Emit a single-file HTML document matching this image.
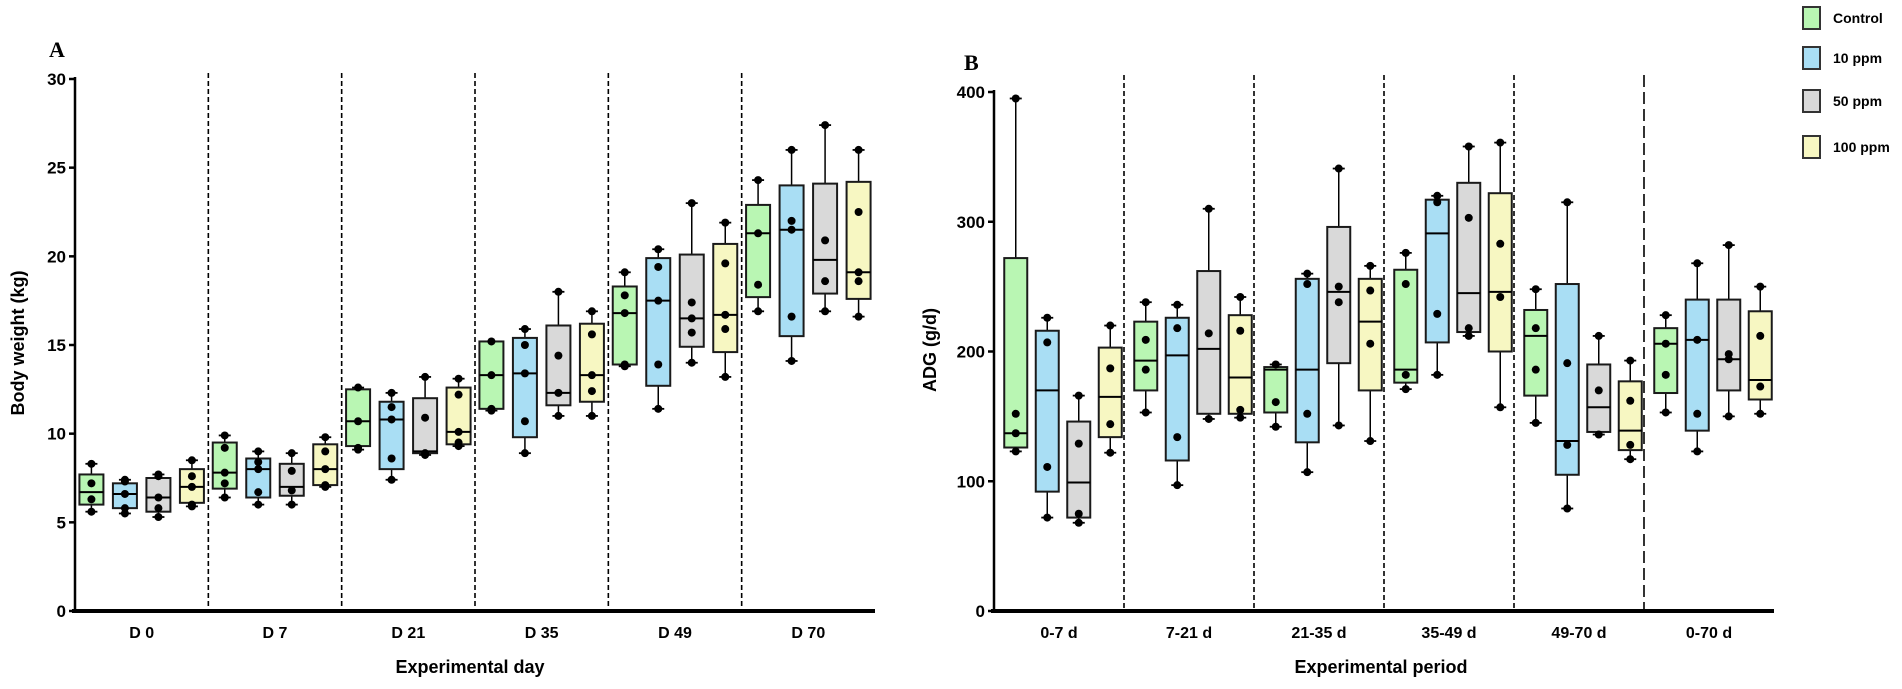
<!DOCTYPE html>
<html><head><meta charset="utf-8"><style>
html,body{margin:0;padding:0;background:#fff;}
svg{display:block;font-family:"Liberation Sans",Arial,sans-serif;}
</style></head><body>
<svg id="chart" width="1902" height="689" viewBox="0 0 1902 689"></svg>
<script>
// ---------- Panel A data (kg) ----------
const catsA = ["D 0","D 7","D 21","D 35","D 49","D 70"];
const ticksA = [0,5,10,15,20,25,30];
const minA = [[5.6,5.5,5.3,5.9],[6.4,6.0,6.0,7.0],[9.1,7.4,8.8,9.3],[11.3,8.9,11.0,11.0],[13.8,11.4,14.0,13.2],[16.9,14.1,16.9,16.6]];
const q1A  = [[6.0,5.8,5.6,6.1],[6.9,6.4,6.5,7.1],[9.3,8.0,8.9,9.4],[11.4,9.8,11.6,11.8],[13.9,12.7,14.9,14.6],[17.7,15.5,17.9,17.6]];
const medA = [[6.7,6.6,6.4,7.0],[7.8,8.0,7.0,8.0],[10.7,10.8,9.0,10.1],[13.3,13.4,12.3,13.3],[16.8,17.5,16.5,16.7],[21.3,21.5,19.8,19.1]];
const q3A  = [[7.7,7.2,7.5,8.0],[9.5,8.6,8.3,9.4],[12.5,11.8,12.0,12.6],[15.2,15.4,16.1,16.2],[18.3,19.9,20.1,20.7],[22.9,24.0,24.1,24.2]];
const maxA = [[8.3,7.4,7.7,8.5],[9.9,9.0,8.9,9.8],[12.6,12.3,13.2,13.1],[15.2,15.9,18.0,16.9],[19.1,20.4,23.0,21.9],[24.3,26.0,27.4,26.0]];
const ptsA = [[[7.2,6.3],[7.3,6.6,5.8],[7.6,6.4,5.8],[7.6,7.0,6.0]],
              [[9.2,7.8,7.2],[8.4,8.0,6.7],[7.9,6.8],[9.0,8.0,7.1]],
              [[10.7,9.2],[11.5,10.8,8.6],[10.9,8.9],[12.2,10.1,9.5]],
              [[13.3,11.4],[15.0,13.4,10.7],[14.4,12.3],[15.6,13.3,12.4]],
              [[17.8,16.8,13.9],[19.4,17.5,13.9],[17.4,16.5,15.7],[19.6,16.7,15.9]],
              [[21.3,18.4],[22.0,21.5,16.6],[20.9,18.6],[22.5,19.1,18.6]]];
// ---------- Panel B data (g/d) ----------
const catsB = ["0-7 d","7-21 d","21-35 d","35-49 d","49-70 d","0-70 d"];
const ticksB = [0,100,200,300,400];
const minB = [[123,72,68,122],[153,97,148,149],[142,107,143,131],[171,182,212,157],[145,79,136,117],[153,123,150,152]];
const q1B  = [[126,92,72,134],[170,116,152,152],[153,130,191,170],[176,207,215,200],[166,105,138,124],[168,139,170,163]];
const medB = [[137,170,99,165],[193,197,202,180],[186,186,246,223],[186,291,245,246],[212,131,157,139],[206,209,194,178]];
const q3B  = [[272,216,146,203],[223,226,262,228],[188,256,296,256],[263,317,330,322],[232,252,190,177],[218,240,240,231]];
const maxB = [[395,226,166,220],[238,236,310,242],[190,260,341,266],[276,320,358,361],[248,315,212,193],[228,268,282,250]];
const ptsB = [[[152,137],[207,111],[129,75],[187,144]],
              [[209,186],[218,134],[214],[216,155]],
              [[161],[252,152],[250,238],[247,206]],
              [[252,182],[315,229],[303,218],[283,242]],
              [[218,186],[191,128],[170],[162,128]],
              [[206,182],[209,152],[198,194],[212,173]]];
const treatments = ["Control","10 ppm","50 ppm","100 ppm"];
const fills = ["#b9f6b3","#a9def4","#d9d9d9","#f7f7c2"];

const NS="http://www.w3.org/2000/svg";
const svg=document.getElementById('chart');
function mk(tag,attrs,parent){const e=document.createElementNS(NS,tag);for(const k in attrs)e.setAttribute(k,attrs[k]);(parent||svg).appendChild(e);return e;}

function panel(cfg){
  const g=mk('g',{});
  
  
  const y=v=>cfg.y0-(v-cfg.vmin)/(cfg.vmax-cfg.vmin)*(cfg.y0-cfg.y1);
  const n=cfg.cats.length, gw=(cfg.x1-cfg.x0)/n;
  const cx=(i)=>cfg.x0+gw*(i+0.5)+cfg.shift;
  for(let i=1;i<n;i++){
    const x=cfg.x0+gw*i;
    const l=mk('line',{x1:x,x2:x,y1:cfg.divTop,y2:cfg.y0,stroke:'#000','stroke-width':1.6,'stroke-dasharray':(cfg.longLast&&i===n-1)?'12,5':'5,3'},g);
    
    
  }
  for(let i=0;i<n;i++){
    for(let t=0;t<4;t++){
      const bx=cx(i)+(t-1.5)*cfg.sp, hw=cfg.bw/2;
      const bg=mk('g',{},g);
      
      
      const mn=cfg.mins[i][t],q1=cfg.q1s[i][t],md=cfg.meds[i][t],q3=cfg.q3s[i][t],mx=cfg.maxs[i][t];
      mk('line',{x1:bx,x2:bx,y1:y(mx),y2:y(q3),stroke:'#000','stroke-width':1.5},bg);
      mk('line',{x1:bx,x2:bx,y1:y(q1),y2:y(mn),stroke:'#000','stroke-width':1.5},bg);
      mk('line',{x1:bx-6,x2:bx+6,y1:y(mx),y2:y(mx),stroke:'#000','stroke-width':1.8},bg);
      mk('line',{x1:bx-6,x2:bx+6,y1:y(mn),y2:y(mn),stroke:'#000','stroke-width':1.8},bg);
      mk('rect',{x:bx-hw,y:y(q3),width:cfg.bw,height:Math.max(0.5,y(q1)-y(q3)),fill:fills[t],stroke:'#1a1a1a','stroke-width':2},bg);
      mk('line',{x1:bx-hw,x2:bx+hw,y1:y(md),y2:y(md),stroke:'#000','stroke-width':2},bg);
      const pv=[mx,mn].concat(cfg.pts[i][t]);
      pv.forEach(v=>mk('circle',{cx:bx,cy:y(v),r:4,fill:'#000'},bg));
    }
  }
  const ya=mk('line',{x1:cfg.x0,x2:cfg.x0,y1:cfg.y1-2,y2:cfg.y0+1,stroke:'#000','stroke-width':2.5},g);
  
  const xa=mk('line',{x1:cfg.x0-3,x2:cfg.x1,y1:cfg.y0,y2:cfg.y0,stroke:'#000','stroke-width':4},g);
  
  cfg.ticks.forEach(v=>{
    mk('line',{x1:cfg.x0-6,x2:cfg.x0,y1:y(v),y2:y(v),stroke:'#000','stroke-width':2.5},g);
    const tx=mk('text',{x:cfg.x0-9,y:y(v)+6,'text-anchor':'end','font-size':17,'font-weight':'bold'},g);
    tx.textContent=v;
    
  });
  cfg.cats.forEach((c,i)=>{
    const tx=mk('text',{x:cfg.x0+gw*(i+0.5),y:638,'text-anchor':'middle','font-size':16,'font-weight':'bold'},g);
    tx.textContent=c;
    
  });
  const xt=mk('text',{x:cfg.xtitleX,y:673,'text-anchor':'middle','font-size':18,'font-weight':'bold'},g);
  xt.textContent=cfg.xtitle;
  const yt=mk('text',{x:0,y:0,'text-anchor':'middle','font-size':18,'font-weight':'bold',transform:`translate(${cfg.ytitleX},${cfg.ytitleY}) rotate(-90)`},g);
  yt.textContent=cfg.ytitle;
  const pl=mk('text',{x:cfg.letterX,y:cfg.letterY,'font-size':22,'font-weight':'bold','font-family':'"Liberation Serif",serif'},g);
  pl.textContent=cfg.letter;
}

panel({name:'panel-a-body-weight',cats:catsA,ticks:ticksA,vmin:0,vmax:30,x0:75,x1:875,y0:611,y1:79,shift:0,sp:33.5,bw:24,divTop:73,
  mins:minA,q1s:q1A,meds:medA,q3s:q3A,maxs:maxA,pts:ptsA,xtitle:'Experimental day',xtitleX:470,ytitle:'Body weight (kg)',ytitleX:24,ytitleY:343,letter:'A',letterX:49,letterY:57});
panel({name:'panel-b-adg',cats:catsB,ticks:ticksB,vmin:0,vmax:400,x0:994,x1:1774,y0:611,y1:92,shift:4,sp:31.5,bw:23,divTop:75,longLast:true,
  mins:minB,q1s:q1B,meds:medB,q3s:q3B,maxs:maxB,pts:ptsB,xtitle:'Experimental period',xtitleX:1381,ytitle:'ADG (g/d)',ytitleX:936,ytitleY:350,letter:'B',letterX:964,letterY:70});

const legY=[7,47,90,136];
const lg=mk('g',{});


treatments.forEach((t,i)=>{
  const e=mk('g',{},lg);
  
  
  mk('rect',{x:1803,y:legY[i],width:17,height:22,fill:fills[i],stroke:'#333','stroke-width':2},e);
  const tx=mk('text',{x:1833,y:legY[i]+16,'font-size':14,'font-weight':'bold'},e);
  tx.textContent=t;
});
</script>
</body></html>
